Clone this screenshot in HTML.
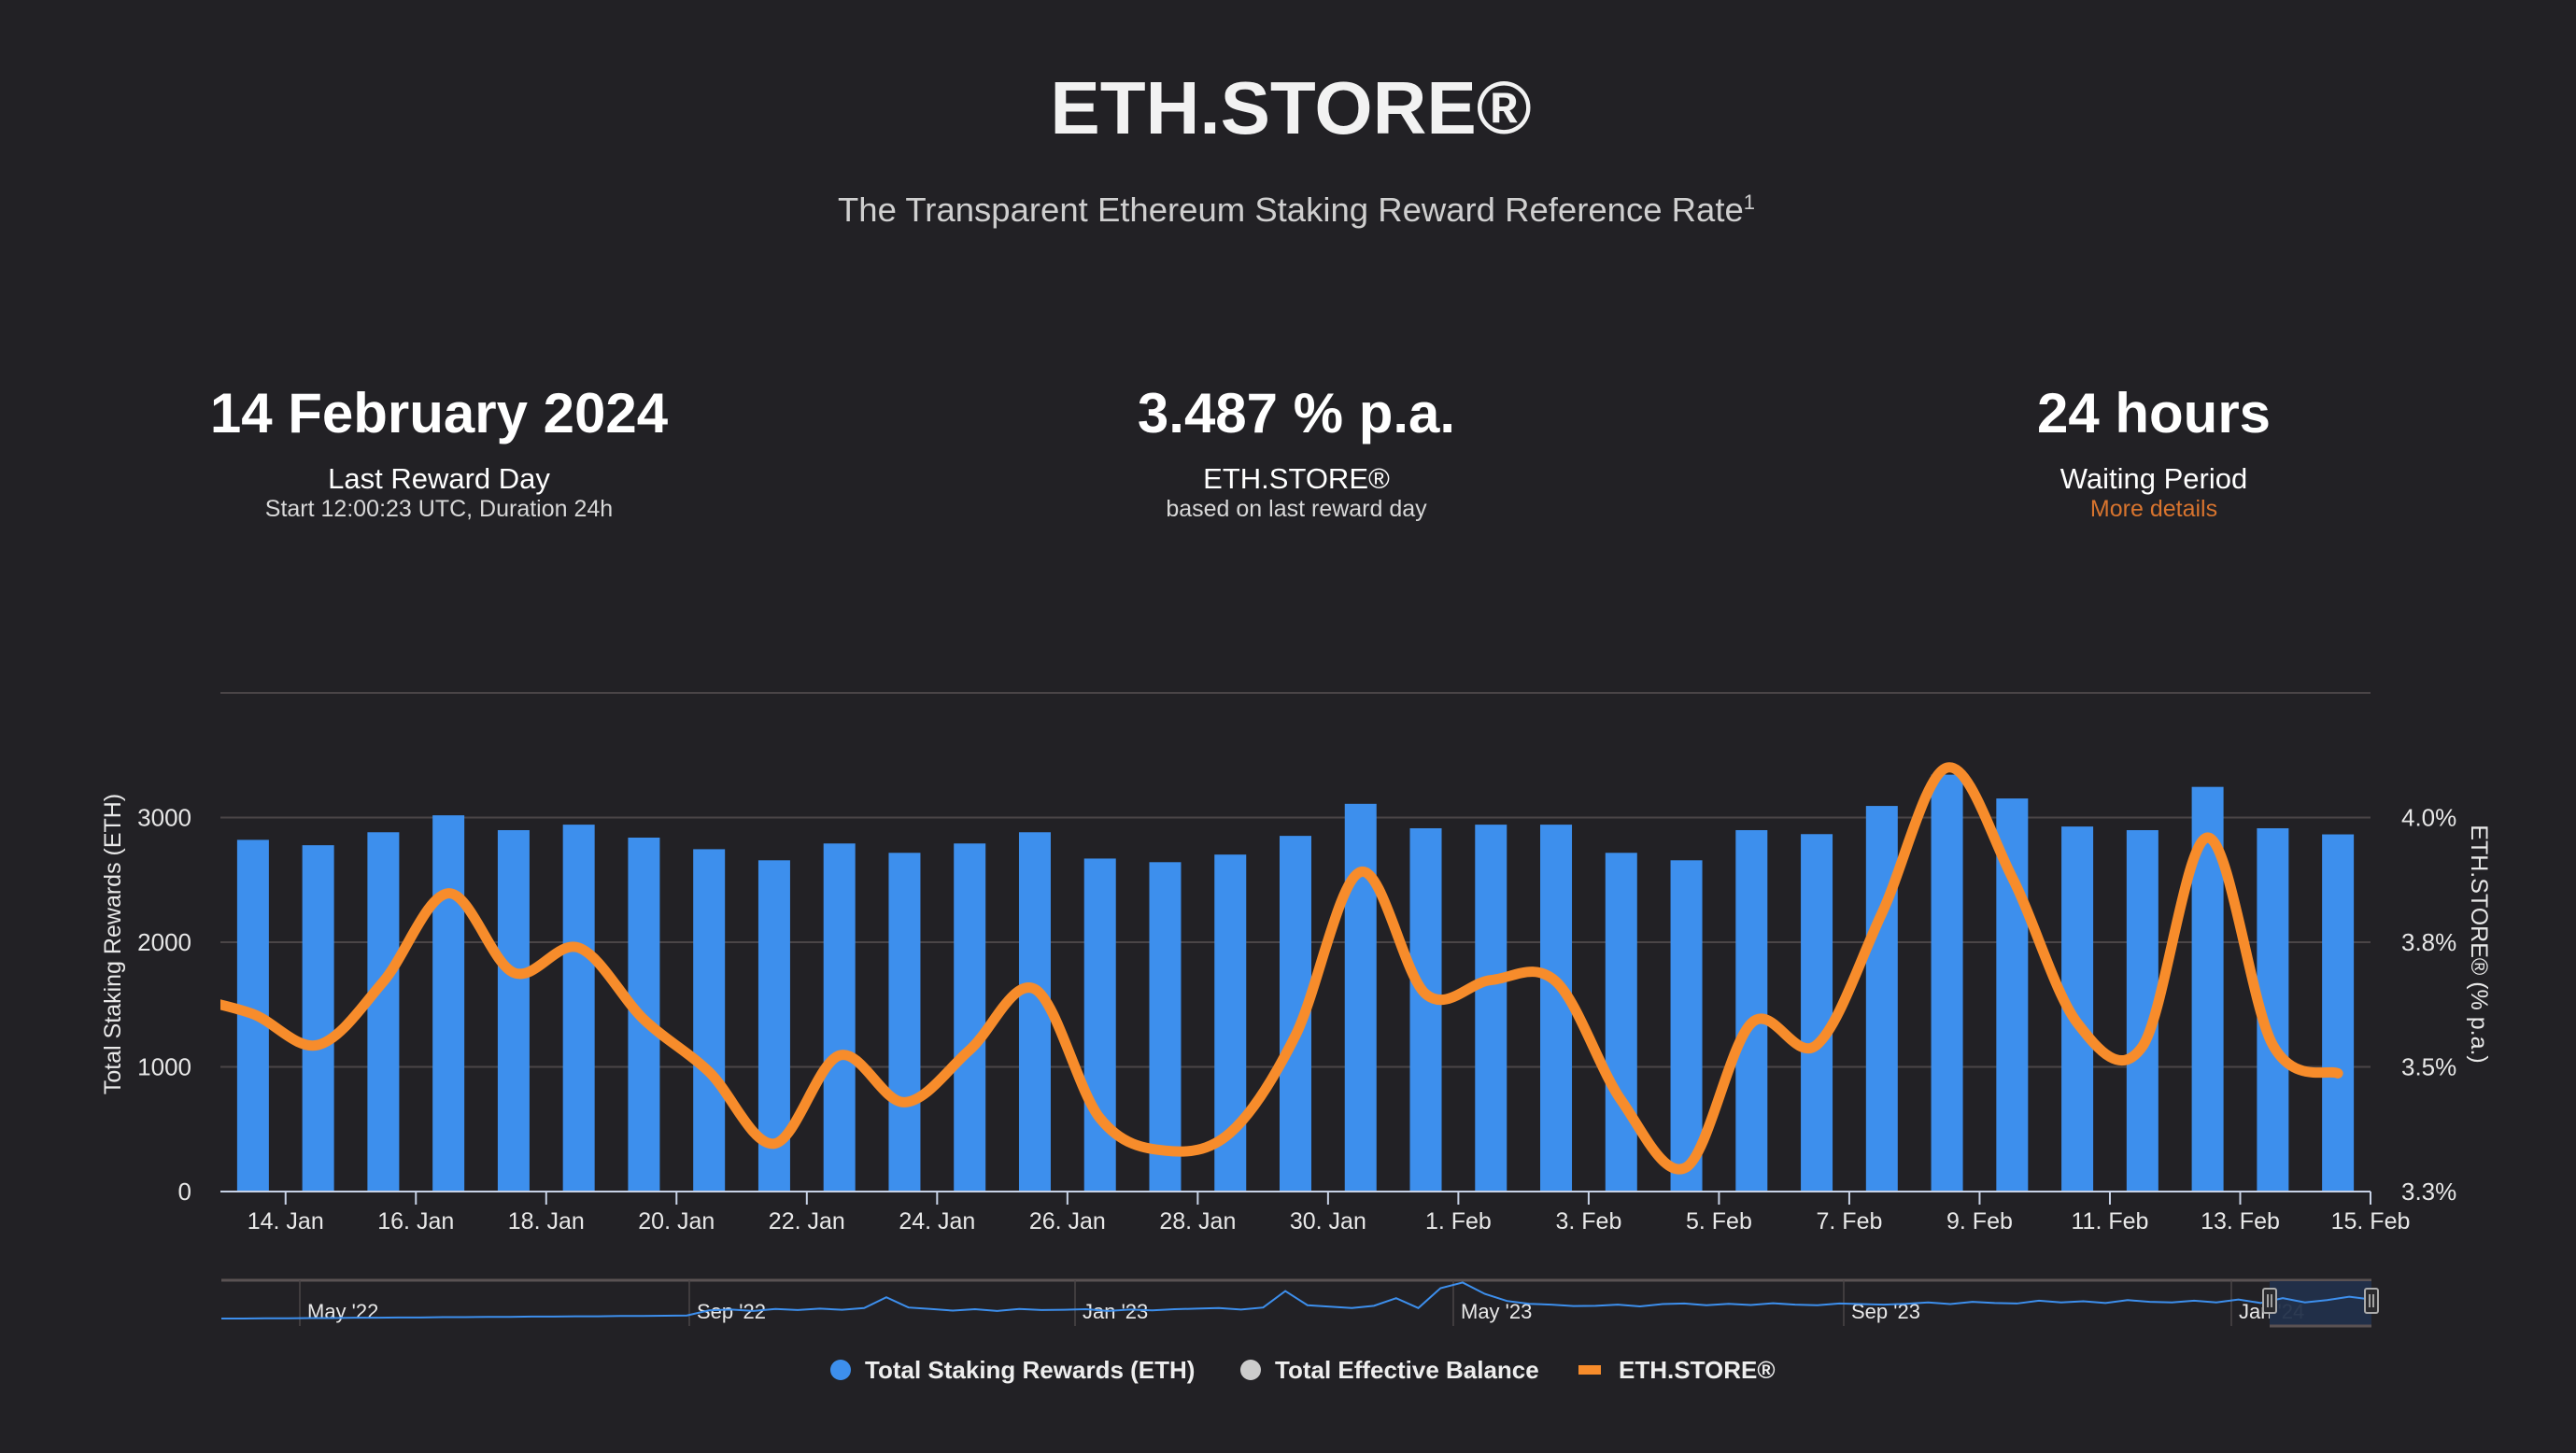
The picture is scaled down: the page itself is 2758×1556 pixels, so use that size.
<!DOCTYPE html>
<html><head><meta charset="utf-8"><style>
html,body{margin:0;padding:0;background:#222125;}
body{width:2758px;height:1556px;overflow:hidden;font-family:"Liberation Sans",sans-serif;color:#fff;position:relative}
.c{position:absolute;text-align:center;transform:translateX(-50%);white-space:nowrap}
</style></head><body>
<div class="c" style="left:1382px;top:70px;font-size:80px;font-weight:bold;color:#f2f2f2">ETH.STORE®</div>
<div class="c" style="left:1388px;top:204px;font-size:36.5px;color:#cfcfcf">The Transparent Ethereum Staking Reward Reference Rate<sup style="font-size:22px">1</sup></div>

<div class="c" style="left:470px;top:408px;font-size:60px;font-weight:bold">14 February 2024</div>
<div class="c" style="left:470px;top:495px;font-size:31px">Last Reward Day</div>
<div class="c" style="left:470px;top:531px;font-size:25px;color:#d8d8d8">Start 12:00:23 UTC, Duration 24h</div>

<div class="c" style="left:1388px;top:408px;font-size:60px;font-weight:bold">3.487 % p.a.</div>
<div class="c" style="left:1388px;top:495px;font-size:31px">ETH.STORE®</div>
<div class="c" style="left:1388px;top:531px;font-size:25px;color:#d8d8d8">based on last reward day</div>

<div class="c" style="left:2306px;top:408px;font-size:60px;font-weight:bold">24 hours</div>
<div class="c" style="left:2306px;top:495px;font-size:31px">Waiting Period</div>
<div class="c" style="left:2306px;top:531px;font-size:25px;color:#d8742e">More details</div>

<svg id="chart" width="2758" height="1556" style="position:absolute;left:0;top:0" xmlns="http://www.w3.org/2000/svg">
<defs><clipPath id="pc"><rect x="236" y="700" width="2302" height="600"/></clipPath></defs>
</svg>
<script>
const barDays = ["13 Jan","14 Jan","15 Jan","16 Jan","17 Jan","18 Jan","19 Jan","20 Jan","21 Jan","22 Jan","23 Jan","24 Jan","25 Jan","26 Jan","27 Jan","28 Jan","29 Jan","30 Jan","31 Jan","1 Feb","2 Feb","3 Feb","4 Feb","5 Feb","6 Feb","7 Feb","8 Feb","9 Feb","10 Feb","11 Feb","12 Feb","13 Feb","14 Feb"];
const rewards = [2821,2778,2882,3018,2899,2943,2839,2746,2657,2792,2717,2792,2882,2671,2642,2703,2853,3110,2914,2943,2943,2717,2657,2899,2867,3093,3344,3153,2928,2899,3246,2914,2865];
const ethStore = [3.606,3.544,3.671,3.848,3.689,3.739,3.595,3.490,3.346,3.523,3.429,3.534,3.656,3.397,3.332,3.368,3.563,3.891,3.646,3.674,3.671,3.433,3.299,3.588,3.544,3.808,4.100,3.880,3.588,3.541,3.960,3.544,3.487];
const ethStorePrev = 3.64;
const leftTicks = [0,1000,2000,3000];
const rightTicks = [3.25,3.5,3.75,4.0];
const rightTickLabels = ["3.3%","3.5%","3.8%","4.0%"];
const xTickLabels = ["14. Jan","16. Jan","18. Jan","20. Jan","22. Jan","24. Jan","26. Jan","28. Jan","30. Jan","1. Feb","3. Feb","5. Feb","7. Feb","9. Feb","11. Feb","13. Feb","15. Feb"];
const navLabels = ["May '22","Sep '22","Jan '23","May '23","Sep '23","Jan '24"];
const navValues = [13,13,14,14,15,15,16,16,17,17,18,18,19,19,20,20,21,21,22,22,23,24,42,45,40,47,43,48,44,50,88,52,47,41,46,40,47,43,44,46,40,45,42,46,48,50,45,52,110,60,55,50,58,85,50,120,140,100,75,65,62,57,58,62,56,64,66,60,65,61,67,62,60,66,64,62,65,70,64,72,68,66,76,70,74,68,78,72,70,76,70,80,68,85,70,78,90,80];

const svg = document.getElementById('chart');
const NS = 'http://www.w3.org/2000/svg';
const PL=236, PR=2538, PB=1276, PT=742, DAYS=33;
const dayW=(PR-PL)/DAYS;
const xDay = d => PL + d*dayW;
const yLeft = v => PB - v/4000*(PB-PT);
const yRight = p => PB - (p-3.25)/1.0*(PB-PT);
function mk(tag, attrs, parent){const e=document.createElementNS(NS,tag);for(const k in attrs)e.setAttribute(k,attrs[k]);(parent||svg).appendChild(e);return e;}

[0,1000,2000,3000,4000].forEach(v=>{
  const g=mk('line',{x1:PL,x2:PR,y1:yLeft(v),y2:yLeft(v),stroke:v===0?'#c8d2e6':'#4a4547','stroke-width':2});
  
  
});
leftTicks.forEach(v=>{
  const t=mk('text',{x:205,y:yLeft(v)+9,'text-anchor':'end','font-size':26,fill:'#e8e8e8','font-family':'Liberation Sans, sans-serif'});
  t.textContent=v;
  
  
});
rightTicks.forEach((p,i)=>{
  const t=mk('text',{x:2571,y:yRight(p)+9,'font-size':26,fill:'#e8e8e8','font-family':'Liberation Sans, sans-serif'});
  t.textContent=rightTickLabels[i];
  
  
});
const lt=mk('text',{x:0,y:0,transform:'translate(129,1011) rotate(-90)','text-anchor':'middle','font-size':25,fill:'#e8e8e8','font-family':'Liberation Sans, sans-serif'});
lt.textContent='Total Staking Rewards (ETH)';


const rt=mk('text',{x:0,y:0,transform:'translate(2646,1011) rotate(90)','text-anchor':'middle','font-size':25,fill:'#e8e8e8','font-family':'Liberation Sans, sans-serif'});
rt.textContent='ETH.STORE® (% p.a.)';



xTickLabels.forEach((l,i)=>{
  const x=xDay(1+2*i);
  const tk=mk('line',{x1:x,x2:x,y1:PB,y2:PB+14,stroke:'#c8d2e6','stroke-width':2});
  
  
  const t=mk('text',{x:x,y:PB+40,'text-anchor':'middle','font-size':25,fill:'#e8e8e8','font-family':'Liberation Sans, sans-serif'});
  t.textContent=l;
  
  
});

rewards.forEach((v,i)=>{
  const cx=xDay(i+0.5), w=34;
  const b=mk('rect',{x:cx-w/2,y:yLeft(v),width:w,height:PB-1-yLeft(v),fill:'#3d8fed'});
  
  
});

function spline(pts){
  let d='M'+pts[0][0]+','+pts[0][1];
  for(let i=0;i<pts.length-1;i++){
    const p0=pts[i-1]||pts[i],p1=pts[i],p2=pts[i+1],p3=pts[i+2]||pts[i+1];
    const c1=[p1[0]+(p2[0]-p0[0])/6,p1[1]+(p2[1]-p0[1])/6];
    const c2=[p2[0]-(p3[0]-p1[0])/6,p2[1]-(p3[1]-p1[1])/6];
    d+=' C'+c1[0]+','+c1[1]+' '+c2[0]+','+c2[1]+' '+p2[0]+','+p2[1];
  }
  return d;
}
const pts=[[xDay(-0.5),yRight(ethStorePrev)]].concat(ethStore.map((p,i)=>[xDay(i+0.5),yRight(p)]));
const ln=mk('path',{d:spline(pts),fill:'none',stroke:'#f78c2b','stroke-width':11,'stroke-linecap':'round','stroke-linejoin':'round','clip-path':'url(#pc)'});



const NL=237, NR=2539, NT=1371, NB=1420;
const nb=mk('line',{x1:NL,x2:NR,y1:NT,y2:NT,stroke:'#5a5253','stroke-width':3});


const navX=[321,738,1151,1556,1974,2389];
navLabels.forEach((l,i)=>{
  const g=mk('line',{x1:navX[i],x2:navX[i],y1:NT,y2:NB,stroke:'#4a4547','stroke-width':1.5});
  
  
  const t=mk('text',{x:navX[i]+8,y:1412,'font-size':22,fill:'#e8e8e8','font-family':'Liberation Sans, sans-serif'});
  t.textContent=l;
  
  
});
const mask=mk('rect',{x:2430,y:NT+1,width:NR-2430,height:NB-NT-1,fill:'#22304a','fill-opacity':0.95});


const nxs=i=>NL+i*(NR-NL)/(navValues.length-1);
const nys=v=>NB-4-v*(NB-NT-4)/148;
const nd='M'+navValues.map((v,i)=>nxs(i)+','+nys(v)).join(' L');
const nl=mk('path',{d:nd,fill:'none',stroke:'#3d8fed','stroke-width':2});


const nbb=mk('line',{x1:2430,x2:NR,y1:NB,y2:NB,stroke:'#5a5253','stroke-width':3});


[2430,2539].forEach(x=>{
  const h=mk('rect',{x:x-7,y:1380,width:14,height:26,rx:2,fill:'#2a2a2e',stroke:'#aaa','stroke-width':2});
  
  
  [-2,2].forEach(o=>{
    const g=mk('line',{x1:x+o,x2:x+o,y1:1386,y2:1400,stroke:'#ccc','stroke-width':1.5});
    
    
  });
});

function legendText(x,label,name){
  const t=mk('text',{x:x,y:1476,'font-size':26,'font-weight':'bold',fill:'#eeeeee','font-family':'Liberation Sans, sans-serif'});
  t.textContent=label;
  
  
}
const l1=mk('circle',{cx:900,cy:1467,r:11,fill:'#3d8fed'});


legendText(926,'Total Staking Rewards (ETH)','legend-rewards');
const l2=mk('circle',{cx:1339,cy:1467,r:11,fill:'#cccccc'});


legendText(1365,'Total Effective Balance','legend-balance');
const l3=mk('rect',{x:1690,y:1462,width:24,height:10,fill:'#f78c2b'});


legendText(1733,'ETH.STORE®','legend-eth-store');
</script>
</body></html>
